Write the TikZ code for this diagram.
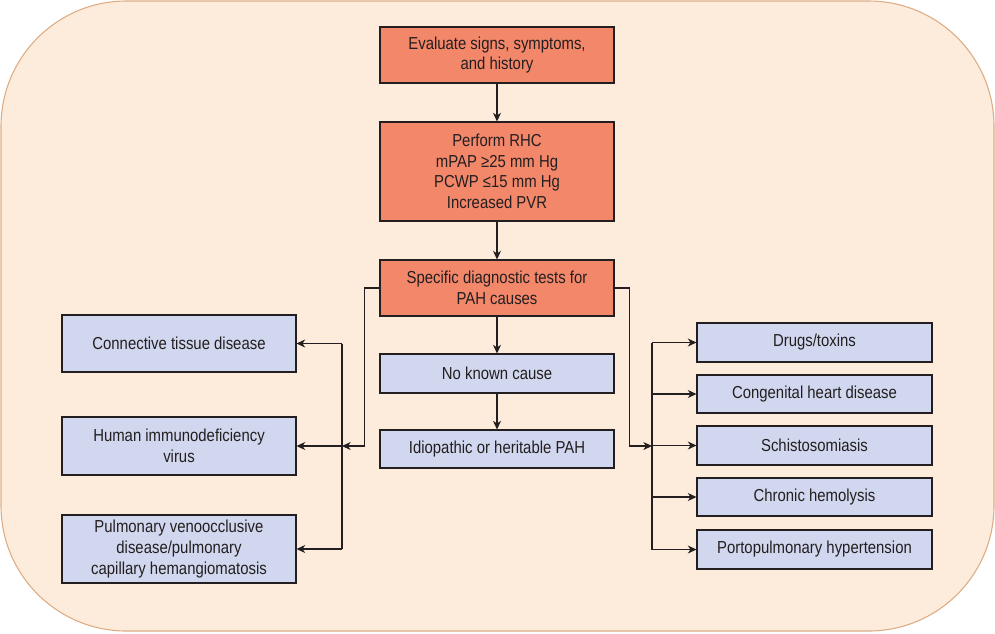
\documentclass[tikz,border=0pt]{standalone}
\usepackage{fontspec}
\setmainfont{Liberation Sans}[FakeStretch=0.86]
\usetikzlibrary{arrows.meta}
\definecolor{bgpeach}{RGB}{253,236,220}
\definecolor{bgline}{RGB}{221,172,132}
\definecolor{salmon}{RGB}{243,135,106}
\definecolor{lavender}{RGB}{209,215,238}
\definecolor{ink}{RGB}{35,31,32}
\begin{document}
\begin{tikzpicture}[x=0.75pt, y=-0.75pt,
  every node/.style={font=\fontsize{13}{15.4}\selectfont, text=ink, align=center, inner sep=0pt},
  box/.style={draw=ink, thick, minimum width=175.5pt},
  stepbox/.style={box, fill=salmon},
  causebox/.style={box, fill=lavender},
  link/.style={draw=ink, thick},
  arrow/.style={link, -{Stealth[length=6.5pt, width=6pt, inset=2pt]}}]
\useasboundingbox (0,0) rectangle (995,633);
\filldraw[fill=bgpeach, draw=bgline, thick, rounded corners=94pt] (1,1) rectangle (994,631);
% main column
\node[stepbox, minimum height=42pt] (eval) at (497,55) {Evaluate signs, symptoms,\\and history};
\node[stepbox, minimum height=74.25pt] (rhc) at (497,171.5) {Perform RHC\\mPAP ≥25 mm Hg\\PCWP ≤15 mm Hg\\Increased PVR};
\node[stepbox, minimum height=42pt] (spec) at (497,288) {Specific diagnostic tests for\\PAH causes};
\node[causebox, minimum height=29.25pt] (noknown) at (497,373.5) {No known cause};
\node[causebox, minimum height=28.5pt] (idio) at (497,449) {Idiopathic or heritable PAH};
% left column
\node[causebox, minimum height=42.75pt] (ctd) at (179,343.5) {Connective tissue disease};
\node[causebox, minimum height=43.5pt] (hiv) at (179,446) {Human immunodeficiency\\virus};
\node[causebox, minimum height=51pt] (pvod) at (179,549) {Pulmonary venoocclusive\\disease/pulmonary\\capillary hemangiomatosis};
% right column
\node[causebox, minimum width=176.25pt, minimum height=29.25pt] (drugs) at (814.5,342.5) {Drugs/toxins};
\node[causebox, minimum width=176.25pt, minimum height=28.5pt] (chd) at (814.5,394) {Congenital heart disease};
\node[causebox, minimum width=176.25pt, minimum height=29.25pt] (schisto) at (814.5,445.5) {Schistosomiasis};
\node[causebox, minimum width=176.25pt, minimum height=28.5pt] (hemo) at (814.5,497) {Chronic hemolysis};
\node[causebox, minimum width=176.25pt, minimum height=29.25pt] (porto) at (814.5,549.5) {Portopulmonary hypertension};
% buses
\coordinate (lbus) at (342,446);
\coordinate (rbus) at (652,446);
\draw[arrow] (eval) -- (rhc);
\draw[arrow] (rhc) -- (spec);
\draw[arrow] (spec) -- (noknown);
\draw[arrow] (noknown) -- (idio);
\draw[arrow] (spec.west) -- ++(-15,0) |- (lbus);
\draw[arrow] (spec.east) -- ++(15,0) |- (rbus);
\draw[link] (ctd.east -| lbus) -- (pvod.east -| lbus);
\foreach \b in {ctd, hiv, pvod}
  \draw[arrow] (\b.east -| lbus) -- (\b.east);
\draw[link] (drugs.west -| rbus) -- (porto.west -| rbus);
\foreach \b in {drugs, chd, schisto, hemo, porto}
  \draw[arrow] (\b.west -| rbus) -- (\b.west);
\end{tikzpicture}
\end{document}
